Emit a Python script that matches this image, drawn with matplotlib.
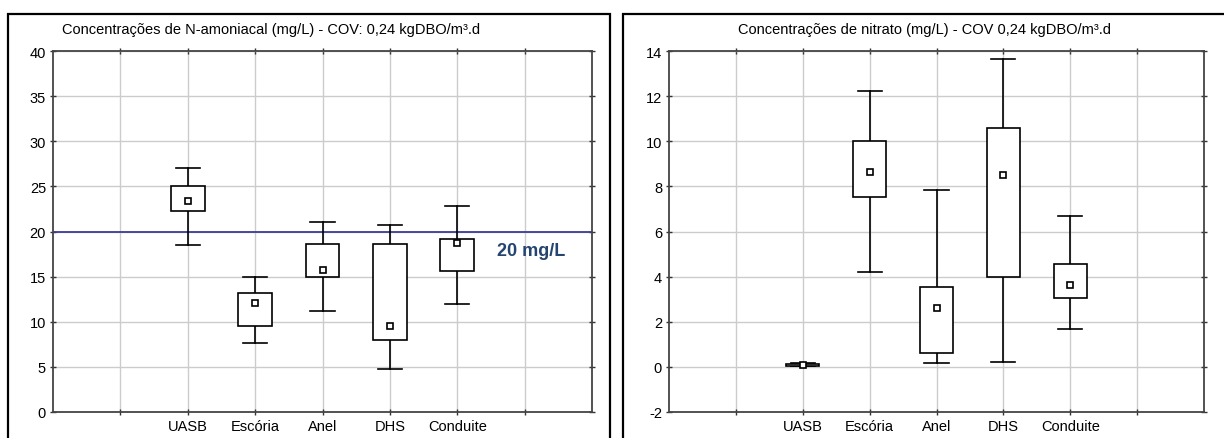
import matplotlib
matplotlib.use('Agg')
import matplotlib.pyplot as plt
from matplotlib.patches import Rectangle

plt.rcParams['font.family'] = ['Liberation Sans', 'DejaVu Sans']

categories = ['UASB', 'Escória', 'Anel', 'DHS', 'Conduite']

# N-amoniacal (mg/L): whisker min, box bottom, marker, box top, whisker max
amon_wlo = [18.5, 7.7, 11.2, 4.8, 12.0]
amon_q1 = [22.3, 9.5, 15.0, 8.0, 15.6]
amon_mid = [23.4, 12.1, 15.7, 9.5, 18.7]
amon_q3 = [25.0, 13.2, 18.6, 18.6, 19.2]
amon_whi = [27.0, 15.0, 21.0, 20.7, 22.8]
limite = 20

# nitrato (mg/L)
nit_wlo = [0.03, 4.2, 0.16, 0.22, 1.67]
nit_q1 = [0.05, 7.53, 0.62, 4.0, 3.05]
nit_mid = [0.09, 8.63, 2.6, 8.49, 3.64]
nit_q3 = [0.12, 10.0, 3.54, 10.6, 4.58]
nit_whi = [0.16, 12.24, 7.85, 13.66, 6.67]

W, H = 1224, 439
fig = plt.figure(figsize=(W / 100, H / 100), dpi=100)


def px_axes(x0, y0, x1, y1):
    return fig.add_axes([x0 / W, 1 - y1 / H, (x1 - x0) / W, (y1 - y0) / H])


def frame(x0, y0, x1, y1):
    fig.patches.append(Rectangle((x0 / W, 1 - y1 / H), (x1 - x0) / W, (y1 - y0) / H,
                                 transform=fig.transFigure, fill=False,
                                 edgecolor='black', linewidth=1.6))


def boxes(ax, wlo, q1, mid, q3, whi, ms):
    pos = range(2, 2 + len(categories))
    for x, a, b, m, c, d in zip(pos, wlo, q1, mid, q3, whi):
        ax.plot([x, x], [a, b], color='black', lw=1.2, zorder=3)
        ax.plot([x, x], [c, d], color='black', lw=1.2, zorder=3)
        ax.plot([x - 0.18, x + 0.18], [a, a], color='black', lw=1.2, zorder=3)
        ax.plot([x - 0.18, x + 0.18], [d, d], color='black', lw=1.2, zorder=3)
        ax.add_patch(Rectangle((x - 0.25, b), 0.5, c - b, facecolor='white',
                               edgecolor='black', lw=1.2, zorder=3))
        ax.plot([x], [m], marker='s', ms=ms, mfc='white', mec='black', mew=1.2, zorder=4)


def style(ax, ylim, yticks):
    ax.set_xlim(0, 8)
    ax.set_ylim(*ylim)
    ax.set_xticks(range(1, 8))
    ax.set_xticklabels([''] + categories + [''], fontsize=10.5)
    ax.set_yticks(yticks)
    ax.set_yticklabels([str(v) for v in yticks], fontsize=10.5)
    ax.grid(True, color='#cccccc', lw=1.0, zorder=0)
    ax.set_axisbelow(True)
    ax.tick_params(direction='inout', length=4, width=1, color='#333333',
                   top=True, right=True, pad=3)
    for s in ax.spines.values():
        s.set_color('#444444')
        s.set_linewidth(1.3)


frame(8, 15, 610, 445)
frame(623, 15, 1230, 445)

ax1 = px_axes(53, 52, 592, 413)
boxes(ax1, amon_wlo, amon_q1, amon_mid, amon_q3, amon_whi, 5)
ax1.axhline(limite, color='#3b3b98', lw=1.3, zorder=2)
ax1.text(7.09, 17.9, '20 mg/L', color='#25446f', fontsize=13, fontweight='bold',
         ha='center', va='center')
style(ax1, (0, 40), list(range(0, 41, 5)))
fig.text(271 / W, 1 - 30 / H, 'Concentrações de N-amoniacal (mg/L) - COV: 0,24 kgDBO/m³.d',
         fontsize=10.5, ha='center', va='center')

ax2 = px_axes(669, 52, 1204, 413)
boxes(ax2, nit_wlo, nit_q1, nit_mid, nit_q3, nit_whi, 5)
style(ax2, (-2, 14), list(range(-2, 15, 2)))
fig.text(925 / W, 1 - 30 / H, 'Concentrações de nitrato (mg/L) - COV 0,24 kgDBO/m³.d',
         fontsize=10.5, ha='center', va='center')

fig.savefig('out.png', dpi=100)
